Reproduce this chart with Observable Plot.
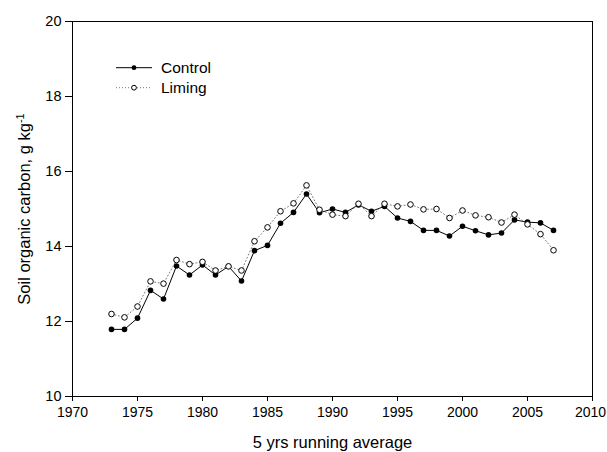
<!DOCTYPE html>
<html><head><meta charset="utf-8">
<script src="https://cdn.jsdelivr.net/npm/d3@7"></script>
<script src="https://cdn.jsdelivr.net/npm/@observablehq/plot@0.6"></script>
<style>
body{margin:0;background:#fff;}
#chart{position:relative;width:607px;height:452px;font-family:"Liberation Sans",Arial,sans-serif;}
#legend{position:absolute;left:0;top:0;pointer-events:none;}
</style></head><body><div id="chart"></div>
<script>
const years = [1973,1974,1975,1976,1977,1978,1979,1980,1981,1982,1983,1984,1985,1986,1987,1988,1989,1990,1991,1992,1993,1994,1995,1996,1997,1998,1999,2000,2001,2002,2003,2004,2005,2006,2007];
const control = [11.79,11.79,12.09,12.83,12.60,13.48,13.24,13.51,13.24,13.47,13.08,13.89,14.03,14.62,14.91,15.40,14.90,15.00,14.91,15.11,14.94,15.07,14.76,14.67,14.43,14.43,14.28,14.54,14.42,14.31,14.36,14.71,14.65,14.63,14.43];
const liming = [12.20,12.11,12.40,13.07,13.01,13.64,13.53,13.59,13.36,13.47,13.36,14.14,14.51,14.94,15.15,15.63,14.98,14.85,14.81,15.14,14.81,15.14,15.07,15.12,14.99,15.00,14.76,14.96,14.83,14.78,14.64,14.85,14.59,14.33,13.90];
const xTicks = [1970,1975,1980,1985,1990,1995,2000,2005,2010];
const yTicks = [10,12,14,16,18,20];
const seriesNames = ["Control","Liming"];
const xLabel = "5 yrs running average";
const yLabel = "Soil organic carbon, g kg";
const yLabelSup = "-1";

const rows = years.map((y,i)=>({year:y, control:control[i], liming:liming[i]}));
const font = "Liberation Sans, Arial, sans-serif";

const plot = Plot.plot({
  width:607, height:452,
  marginLeft:72, marginRight:15, marginTop:21, marginBottom:56,
  style:{fontFamily:font, fontSize:"14px", color:"#000", background:"#fff"},
  x:{domain:[1970,2010]},
  y:{domain:[10,20]},
  marks:[
    Plot.axisX({ticks:xTicks, tickFormat:d=>String(d), tickSize:5, tickPadding:6, label:null, fontSize:14, stroke:"#000"}),
    Plot.axisY({ticks:yTicks, tickFormat:d=>String(d), tickSize:7, tickPadding:4, label:null, fontSize:14.5, stroke:"#000"}),
    Plot.frame({stroke:"#000", strokeWidth:1}),
    Plot.text([xLabel], {frameAnchor:"bottom", lineAnchor:"middle", dy:46, fontSize:16.5, fill:"#000", text:d=>d}),
    Plot.text([yLabel], {frameAnchor:"left", textAnchor:"middle", lineAnchor:"middle", dx:-48, rotate:-90, fontSize:16.5, fill:"#000", text:d=>d}),
    Plot.line(rows, {x:"year", y:"control", stroke:"#000", strokeWidth:1}),
    Plot.dot(rows, {x:"year", y:"control", r:2.8, fill:"#000", stroke:"none"}),
    Plot.line(rows, {x:"year", y:"liming", stroke:"#777", strokeWidth:1, strokeDasharray:"1,2.5"}),
    Plot.dot(rows, {x:"year", y:"liming", r:2.8, fill:"#fff", stroke:"#000", strokeWidth:1})
  ]
});
document.getElementById("chart").appendChild(plot);

// keep the last x tick label inside the window
d3.select(plot).selectAll("text").filter(function(){return this.textContent===String(xTicks[xTicks.length-1]);})
  .attr("dx", -2);

// superscript on y label
d3.select(plot).selectAll("text").filter(function(){return this.textContent===yLabel;})
  .each(function(){
    d3.select(this).append("tspan").attr("font-size", 11).attr("dy", -6).text(yLabelSup);
  });

// legend overlay
const lg = d3.select("#chart").append("svg").attr("id","legend").attr("width",607).attr("height",452);
const styles = [
  {stroke:"#000", dash:null, fill:"#000", mstroke:"none"},
  {stroke:"#777", dash:"1,2", fill:"#fff", mstroke:"#000"}
];
seriesNames.forEach((name,i)=>{
  const y = 67.7 + i*20;
  const s = styles[i];
  lg.append("line").attr("x1",116).attr("x2",152).attr("y1",y).attr("y2",y)
    .attr("stroke",s.stroke).attr("stroke-width",1).attr("stroke-dasharray",s.dash);
  lg.append("circle").attr("cx",134).attr("cy",y).attr("r",2.4).attr("fill",s.fill).attr("stroke",s.mstroke);
  lg.append("text").attr("x",161).attr("y",y).attr("dy","0.36em").attr("font-size",15.5)
    .attr("font-family",font).attr("fill","#000").text(name);
});
</script></body></html>
